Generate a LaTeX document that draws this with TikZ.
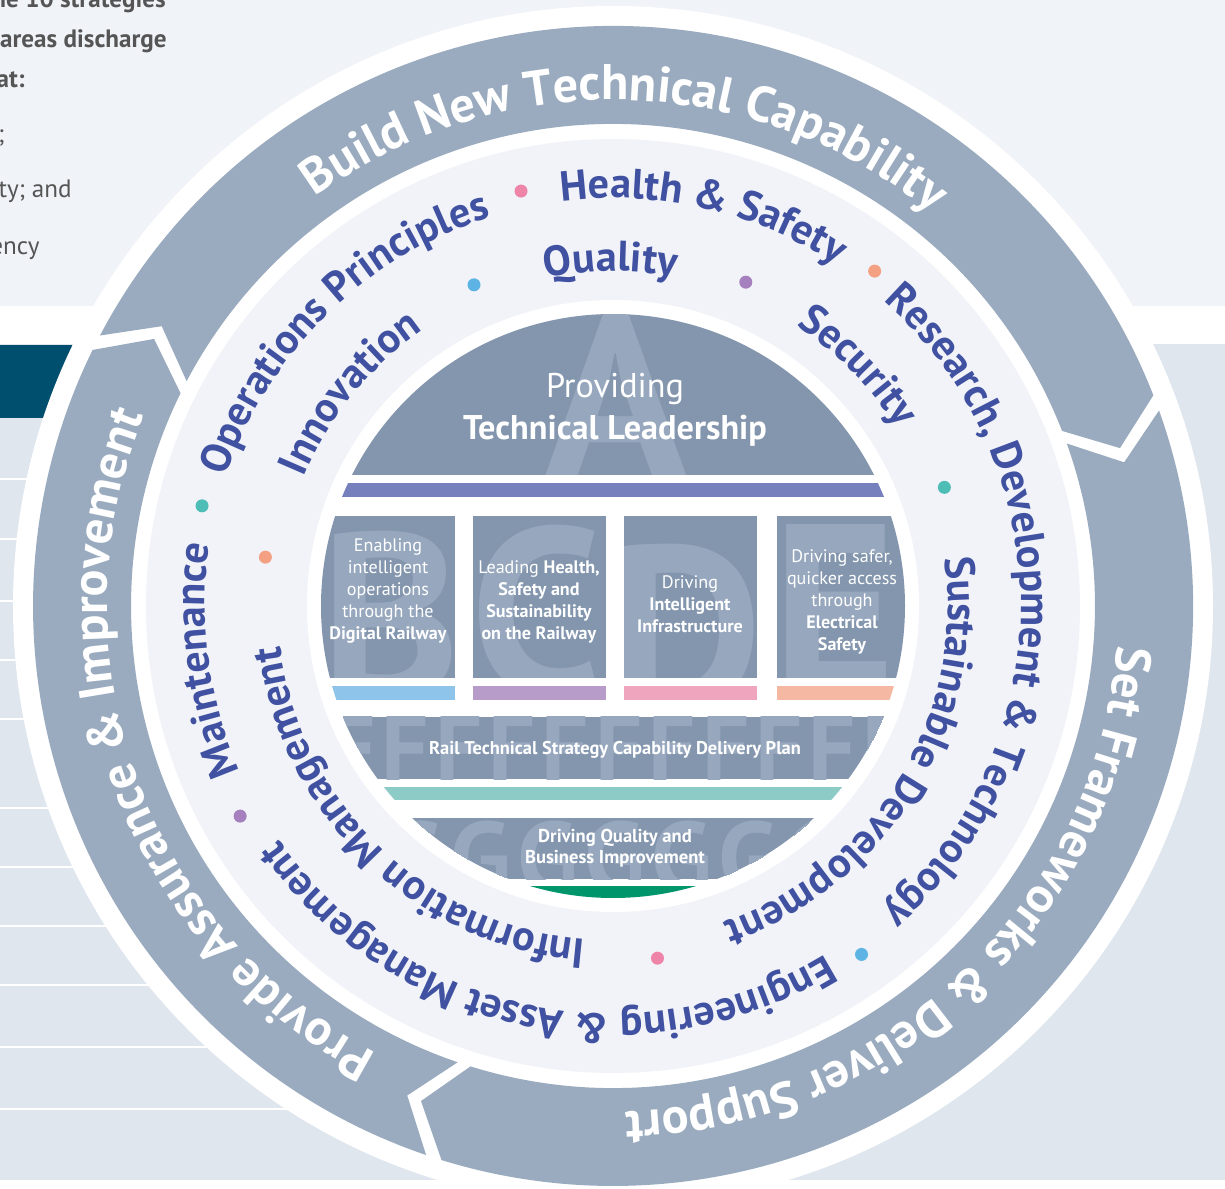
\documentclass[tikz,border=0pt]{standalone}
\usepackage{fontspec}
\setmainfont{PT Sans}
\usepackage{tikz}
\usetikzlibrary{decorations.text}

\definecolor{pagebg}{HTML}{F0F3F8}
\definecolor{panelbg}{HTML}{DFE6EE}
\definecolor{ringgrey}{HTML}{9AABBF}
\definecolor{midring}{HTML}{F1F3F8}
\definecolor{diskblue}{HTML}{8396AE}
\definecolor{ghost}{HTML}{97A8BE}
\definecolor{railblue}{HTML}{3F51A0}
\definecolor{deepteal}{HTML}{004F6E}
\definecolor{barpurple}{HTML}{7580BD}
\definecolor{barB}{HTML}{8EC4EA}
\definecolor{barC}{HTML}{B79BC8}
\definecolor{barD}{HTML}{F0A5BF}
\definecolor{barE}{HTML}{F5B8A2}
\definecolor{barteal}{HTML}{8CCBC6}
\definecolor{bargreen}{HTML}{00956B}
\definecolor{dotpink}{HTML}{EE85A9}
\definecolor{dotblue}{HTML}{5DB3E4}
\definecolor{dotpurple}{HTML}{A67FBF}
\definecolor{dotsalmon}{HTML}{F4A183}
\definecolor{dotteal}{HTML}{4DBDB5}
\definecolor{bodytext}{HTML}{555555}

\newcommand\ringfmt{\fontsize{28.5pt}{31pt}\selectfont\bfseries\color{white}}
\newcommand\midfmt{\fontsize{24pt}{27pt}\selectfont\bfseries\color{railblue}}
\newcommand\boxfont{\fontsize{10.3pt}{12.4pt}\selectfont}
\newcommand\notefont{\fontsize{14.3pt}{17pt}\selectfont}
\newcommand\ghostbig{\fontsize{135pt}{135pt}\selectfont\bfseries}

% grey arrow of the outer ring, from #1 clockwise to #2
\newcommand\ringarrow[2]{%
  \fill[ringgrey] ({#1-0.8}:580) arc[start angle={#1-0.8}, end angle={#2+0.8}, radius=580]
    -- ({#2+0.8-4}:531) -- ({#2+0.8}:482)
    arc[start angle={#2+0.8}, end angle={#1-0.8}, radius=482]
    -- ({#1-0.8-4}:531) -- cycle;}
% text on a clockwise arc: radius, centre angle, half span, format, text
\newcommand\arclabel[5]{%
  \path[decorate, decoration={text along path, text align=center, text={|#4|#5}}]
    ({#2+#3}:#1) arc[start angle={#2+#3}, end angle={#2-#3}, radius=#1];}

\begin{document}
\begin{tikzpicture}[x=0.02cm, y=-0.02cm,
    boxtext/.style={text=white, align=center, inner sep=0pt, font=\boxfont},
    ghostletter/.style={text=ghost, inner sep=0pt, font=\ghostbig},
    note/.style={text=bodytext, inner sep=0pt, anchor=base east, font=\notefont},
    railrule/.style={white, line width=0.05cm}]

  \useasboundingbox (0,0) rectangle (1225,1189);
  \clip (0,0) rectangle (1225,1189);

  % page behind the wheel
  \fill[pagebg] (0,0) rectangle (1225,306);
  \fill[white] (0,306) rectangle (1225,344);
  \fill[panelbg] (0,344) rectangle (1225,1180);
  \fill[white] (0,1180) rectangle (1225,1189);
  \fill[deepteal] (0,345) rectangle (613,418);
  \foreach \y in {479,539,601,660,719,808,867,926,985,1047,1109}
    \draw[railrule] (0,\y) -- (613,\y);

  \node[note, font=\notefont\bfseries] (noteA) at (166,8) {the 10 strategies};
  \node[note, font=\notefont\bfseries] (noteB) at (167,48) {areas discharge};
  \node[note, font=\notefont\bfseries] (noteC) at (25,88) {at:};
  \node[note] (noteD) at (5,143) {;};
  \node[note] (noteE) at (72,198) {ty; and};
  \node[note] (noteF) at (40,255) {ency};

  % the rings
  \begin{scope}[shift={(613,606)}, y=0.02cm]
    \fill[white] (0,0) circle[radius=600];
    \ringarrow{153}{20.5}
    \ringarrow{20.5}{-108}
    \ringarrow{-108}{-207}
    \fill[midring] (0,0) circle[radius=467];
    \fill[white] (0,0) circle[radius=306];

    \arclabel{506}{88.5}{55}{\ringfmt}{Build New Technical Capability}
    \arclabel{506}{-46.5}{55}{\ringfmt}{Set Frameworks {\&} Deliver Support}
    \arclabel{506}{200}{55}{\ringfmt}{Provide Assurance {\&} Improvement}

    \arclabel{408}{134.5}{30}{\midfmt}{Operations Principles}
    \arclabel{408}{77}{26}{\midfmt}{Health {\&} Safety}
    \arclabel{408}{0}{56}{\midfmt}{Research, Development {\&} Technology}
    \arclabel{408}{-101.8}{50}{\midfmt}{Engineering {\&} Asset Management}
    \arclabel{408}{187.6}{19}{\midfmt}{Maintenance}
    \arclabel{335}{141}{23}{\midfmt}{Innovation}
    \arclabel{335}{90.4}{20}{\midfmt}{Quality}
    \arclabel{335}{44.4}{22}{\midfmt}{Security}
    \arclabel{335}{-31.3}{46}{\midfmt}{Sustainable Development}
    \arclabel{335}{-133.9}{46}{\midfmt}{Information Management}

    \foreach \a/\r/\c in {102.5/425/dotpink, 52/425/dotsalmon, -54.5/428/dotblue,
        -150.6/428/dotpurple, 166.3/423/dotteal, 113.4/350/dotblue, 67.7/350/dotpurple,
        19.7/352/dotteal, -82.8/355/dotpink, 172/351/dotsalmon}
      \fill[\c] (\a:\r) circle[radius=6.5];
  \end{scope}

  % the inner disc
  \begin{scope}
    \clip (613,606) circle[radius=292];
    \fill[diskblue] (300,300) rectangle (930,475);
    \begin{scope}
      \clip (300,300) rectangle (930,475);
      \node[ghostletter, anchor=base] (bigA) at (616,480) {A};
    \end{scope}
    \fill[barpurple] (300,483) rectangle (930,497);

    \foreach \xa/\xb/\l/\c/\gx/\gy in {300/455/B/barB/320/700, 473/606/C/barC/470/695,
        624/757/D/barD/609/712, 777/930/E/barE/772/690} {
      \fill[diskblue] (\xa,516) rectangle (\xb,678);
      \begin{scope}
        \clip (\xa,516) rectangle (\xb,678);
        \node[ghostletter, anchor=base west] (big\l) at (\gx,\gy) {\l};
      \end{scope}
      \fill[\c] (\xa,686) rectangle (\xb,700);
    }

    \fill[diskblue] (300,717) rectangle (930,779);
    \begin{scope}
      \clip (300,717) rectangle (930,779);
      \foreach \k in {0,...,11}
        \node[ghostletter, font=\fontsize{53pt}{53pt}\selectfont\bfseries, anchor=base west]
          (ghostF\k) at (328+53.4*\k,781) {F};
    \end{scope}
    \fill[barteal] (300,787) rectangle (930,800);

    \fill[diskblue] (300,818) rectangle (930,879);
    \begin{scope}
      \clip (300,818) rectangle (930,879);
      \foreach \k in {0,...,7}
        \node[ghostletter, font=\fontsize{57pt}{57pt}\selectfont\bfseries, anchor=base west]
          (ghostG\k) at (383+67*\k,892) {G};
    \end{scope}
    \fill[bargreen] (300,886) rectangle (930,930);
  \end{scope}

  \node[boxtext, font=\fontsize{19.5pt}{24pt}\selectfont] (txtA) at (615,410)
    {Providing\\\textbf{Technical Leadership}};
  \node[boxtext] (txtB) at (388,591)
    {Enabling\\intelligent\\operations\\through the\\\textbf{Digital Railway}};
  \node[boxtext] (txtC) at (539,602)
    {Leading \textbf{Health,}\\\textbf{Safety and}\\\textbf{Sustainability}\\\textbf{on the Railway}};
  \node[boxtext] (txtD) at (690,604)
    {Driving\\\textbf{Intelligent}\\\textbf{Infrastructure}};
  \node[boxtext] (txtE) at (842,602)
    {Driving safer,\\quicker access\\through\\\textbf{Electrical}\\\textbf{Safety}};
  \node[boxtext, font=\fontsize{10.5pt}{12.4pt}\selectfont\bfseries] (txtF) at (615,750)
    {Rail Technical Strategy Capability Delivery Plan};
  \node[boxtext, font=\fontsize{10.6pt}{12pt}\selectfont\bfseries] (txtG) at (615,848)
    {Driving Quality and\\Business Improvement};
\end{tikzpicture}
\end{document}
